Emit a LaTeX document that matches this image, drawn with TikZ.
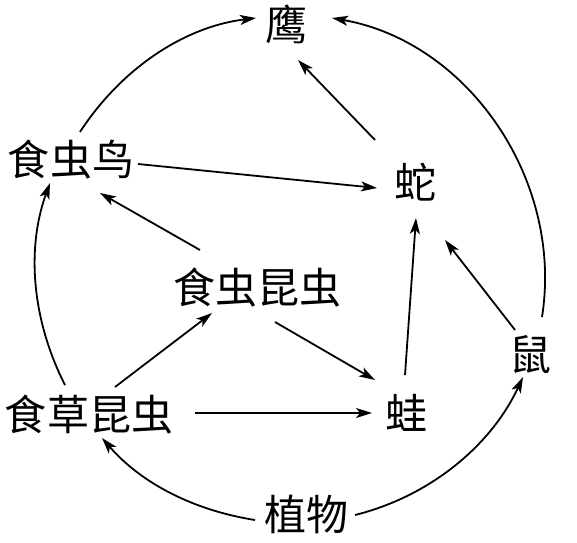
\documentclass[tikz,border=0pt]{standalone}
\usepackage{fontspec}
\newfontfamily\cjk{Noto Sans CJK SC}
\usetikzlibrary{arrows.meta,calc}
\begin{document}
\begin{tikzpicture}[x=1pt,y=1pt,
  lbl/.style={font=\cjk\fontsize{42}{44}\selectfont, inner sep=0pt},
  arr/.style={line width=1.8pt, -{Stealth[length=16pt,width=10pt,inset=4pt]}}]
\useasboundingbox (0,0) rectangle (577,542);
\node[lbl] (ying) at (286,518) {鹰};
\node[lbl] (niao) at (71,382) {食虫鸟};
\node[lbl] (she)  at (415,360) {蛇};
\node[lbl] (kc)   at (257,254) {食虫昆虫};
\node[lbl] (shu)  at (530,187) {鼠};
\node[lbl] (cc)   at (89,127) {食草昆虫};
\node[lbl] (wa)   at (406,129) {蛙};
\node[lbl] (zw)   at (306,28) {植物};
% outer arcs
\draw[arr] ($(niao)+(9,28)$) to[out=57,in=187,looseness=0.9] ($(ying)+(-30,6)$);
\draw[arr] ($(shu)+(12,38)$) to[out=81,in=-10,looseness=0.97] ($(ying)+(46,6)$);
\draw[arr] ($(cc)+(-24,30)$) to[out=117,in=250,looseness=0.9] ($(niao)+(-21,-23)$);
\draw[arr] ($(zw)+(-51,-6)$) to[out=171,in=-49,looseness=0.9] ($(cc)+(13,-23)$);
\draw[arr] ($(zw)+(49,-1)$) to[out=14,in=245,looseness=0.9] ($(shu)+(-7,-22)$);
% straight arrows
\draw[arr] ($(she)+(-40,42)$) -- ($(ying)+(12,-36)$);
\draw[arr] ($(niao)+(67,-4)$) -- ($(she)+(-38,-6)$);
\draw[arr] ($(kc)+(-57,38)$) -- ($(niao)+(29,-33)$);
\draw[arr] ($(cc)+(26,28)$) -- ($(kc)+(-45,-25)$);
\draw[arr] ($(kc)+(18,-34)$) -- ($(wa)+(-31,33)$);
\draw[arr] ($(cc)+(106,2)$) -- ($(wa)+(-34,0)$);
\draw[arr] ($(wa)+(-1,38)$) -- ($(she)+(1,-36)$);
\draw[arr] ($(shu)+(-15,25)$) -- ($(she)+(30,-58)$);
\end{tikzpicture}
\end{document}
